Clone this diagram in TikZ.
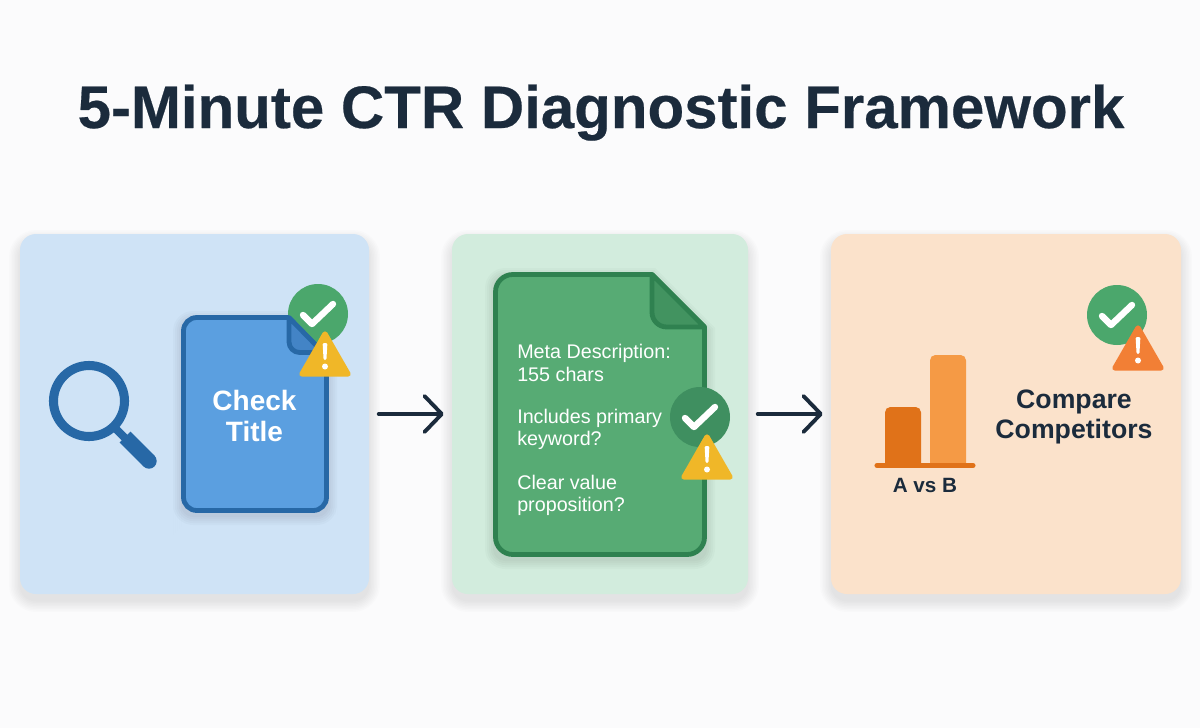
\documentclass[tikz,border=0pt]{standalone}
\usepackage{fontspec}
\setmainfont{Liberation Sans}
\newfontfamily\heavyfont[FakeBold=0.35]{Liberation Sans Bold}
\usetikzlibrary{arrows.meta}
\definecolor{pagebg}{HTML}{FBFBFC}
\definecolor{inkdark}{HTML}{1B2B3C}
\definecolor{bluepanel}{HTML}{CFE3F6}
\definecolor{greenpanel}{HTML}{D2ECDD}
\definecolor{orangepanel}{HTML}{FBE2CB}
\definecolor{bluefill}{HTML}{5B9FE0}
\definecolor{blueedge}{HTML}{2768A6}
\definecolor{bluefold}{HTML}{4384C6}
\definecolor{greenfill}{HTML}{57AB74}
\definecolor{greenedge}{HTML}{2F8150}
\definecolor{greenfold}{HTML}{429360}
\definecolor{okgreen}{HTML}{4BA76C}
\definecolor{okdark}{HTML}{3F8F60}
\definecolor{warnyellow}{HTML}{F0B728}
\definecolor{warnorange}{HTML}{F27F35}
\definecolor{bardark}{HTML}{E07219}
\definecolor{barlight}{HTML}{F59A45}
\tikzset{
  x=0.75pt,y=-0.75pt,
  panelbox/.style={rounded corners=12pt,inner sep=0pt,minimum height=270pt},
  flow/.style={draw=inkdark,line width=2.7pt,line cap=round,-{Straight Barb[length=13pt,width=27pt,line width=2.9pt,round]},shorten >=6pt,shorten <=7pt},
  docedge/.style={line width=3.6pt,line join=round},
  checkmark/.style={draw=white,line width=4.8pt,line cap=round,line join=round},
  warnshape/.style={line width=4pt,line join=round},
  metatext/.style={text=white,anchor=base west,inner sep=0pt,font=\fontsize{14.8}{17}\selectfont},
  boldlabel/.style={anchor=base,inner sep=0pt},
}
\newcommand{\softshadow}[5]{% x0 y0 x1 y1 radius
  \foreach \g in {11,9.5,8,6.5,5,3.5,2,0.5}{
    \pgfmathsetmacro{\rr}{#5+\g*0.75}
    \fill[black,opacity=0.010,rounded corners=\rr pt]
      (#1-\g,#2+7-\g) rectangle (#3+\g,#4+7+\g);
  }}
\newcommand{\pageshadow}[5]{% x0 y0 x1 y1 fold size
  \foreach \g in {8,6,4,2,0}{
    \pgfmathsetmacro{\rr}{9+\g*0.75}
    \fill[black,opacity=0.018]
      (#1-\g,#2+200) [rounded corners=\rr pt] -- (#1-\g,#2+4-\g) [sharp corners] -- (#3-#5+\g*0.4,#2+4-\g) -- (#3+\g,#2+#5+4-\g*0.4) -- (#3+\g,#2+200) [rounded corners=\rr pt] -- (#3+\g,#4+4+\g) -- (#1-\g,#4+4+\g) -- cycle;
  }}
\newcommand{\warnsign}[3]{% apex x, apex y, colour
  \fill[#3,draw=#3,warnshape] (#1,#2+3) -- (#1+23,#2+43) -- (#1-23,#2+43) -- cycle;
  \fill[white,rounded corners=1pt] (#1-2.4,#2+12) -- (#1+2.4,#2+12) -- (#1+1.4,#2+29) -- (#1-1.4,#2+29) -- cycle;
  \fill[white] (#1,#2+35.5) circle (3);
}
\newcommand{\okbadge}[4]{% cx cy colour name
  \node[circle,fill=#3,minimum size=45pt,inner sep=0pt] (#4) at (#1,#2) {};
}
\newcommand{\oktick}[2]{%
  \draw[checkmark] (#1-15,#2+1) -- (#1-6,#2+10) -- (#1+15,#2-10);
}
\begin{document}
\begin{tikzpicture}
\useasboundingbox (0,0) rectangle (1200,728);
\fill[pagebg] (0,0) rectangle (1200,728);

\node[boldlabel,text=inkdark,font=\fontsize{45}{50}\selectfont\heavyfont] (title) at (601,128) {5-Minute CTR Diagnostic Framework};

% panels
\softshadow{20}{234}{369}{594}{12}
\softshadow{452}{234}{748}{594}{12}
\softshadow{831}{234}{1181}{594}{12}
\node[panelbox,fill=bluepanel,minimum width=261.75pt] (panelA) at (194.5,414) {};
\node[panelbox,fill=greenpanel,minimum width=222pt] (panelB) at (600,414) {};
\node[panelbox,fill=orangepanel,minimum width=262.5pt] (panelC) at (1006,414) {};

\draw[flow] (panelA.east) -- (panelB.west);
\draw[flow] (panelB.east) -- (panelC.west);

% panel A: magnifier
\draw[blueedge,line width=6.8pt] (89,401) circle (35.5);
\draw[blueedge,line width=6pt] (112,425) -- (128,441);
\draw[blueedge,line width=11.5pt] (125,437) -- (149,461);
\fill[blueedge] (149,461) circle (7.7);

% panel A: page
\pageshadow{181}{315}{329}{513}{41}
\okbadge{318}{314}{okgreen}{okA}
\draw[docedge,fill=bluefill,draw=blueedge] (183.5,400) [rounded corners=10pt] -- (183.5,317.5) [sharp corners] -- (288,317.5) -- (326.5,356) -- (326.5,420) [rounded corners=10pt] -- (326.5,510.5) -- (183.5,510.5) -- cycle;
\draw[docedge,fill=bluefold,draw=blueedge] (289,317.5) [rounded corners=8pt] -- (289,352.5) [sharp corners] -- (326.5,352.5) -- (326.5,356) -- cycle;
\node[boldlabel,text=white,font=\fontsize{21}{24}\selectfont\bfseries] (checkA) at (254.5,410) {Check};
\node[boldlabel,text=white,font=\fontsize{21}{24}\selectfont\bfseries] (checkB) at (254.5,441) {Title};
\oktick{318}{314}
\warnsign{325}{331}{warnyellow}

% panel B: page
\pageshadow{493}{272}{707}{557}{55}
\draw[docedge,fill=greenfill,draw=greenedge] (495.5,400) [rounded corners=13pt] -- (495.5,274.5) [sharp corners] -- (652,274.5) -- (704.5,327) -- (704.5,450) [rounded corners=13pt] -- (704.5,554.5) -- (495.5,554.5) -- cycle;
\draw[docedge,fill=greenfold,draw=greenedge] (652,274.5) [rounded corners=11pt] -- (652,327) [sharp corners] -- (704.5,327) -- cycle;
\node[metatext] (m1) at (517,358) {Meta Description:};
\node[metatext] (m2) at (517,381) {155 chars};
\node[metatext] (m3) at (517,423) {Includes primary};
\node[metatext] (m4) at (517,445) {keyword?};
\node[metatext] (m5) at (517,489) {Clear value};
\node[metatext] (m6) at (517,511) {proposition?};
\okbadge{700}{417}{okdark}{okB}
\oktick{700}{417}
\warnsign{707}{434}{warnyellow}

% panel C: chart
\fill[bardark] (885,466) [rounded corners=4pt] -- (885,407) -- (921,407) [sharp corners] -- (921,466) -- cycle;
\fill[barlight] (930,466) [rounded corners=4pt] -- (930,355) -- (966,355) [sharp corners] -- (966,466) -- cycle;
\draw[bardark,line width=3.8pt,line cap=round] (877,465.5) -- (973,465.5);
\node[boldlabel,text=inkdark,font=\fontsize{15.5}{18}\selectfont\bfseries] (avsb) at (925,492) {A vs B};
\node[boldlabel,text=inkdark,font=\fontsize{20}{23}\selectfont\bfseries] (cmpA) at (1074,408) {Compare};
\node[boldlabel,text=inkdark,font=\fontsize{20}{23}\selectfont\bfseries] (cmpB) at (1074,438) {Competitors};
\okbadge{1117}{315}{okgreen}{okC}
\oktick{1117}{315}
\warnsign{1138}{325}{warnorange}
\end{tikzpicture}
\end{document}
